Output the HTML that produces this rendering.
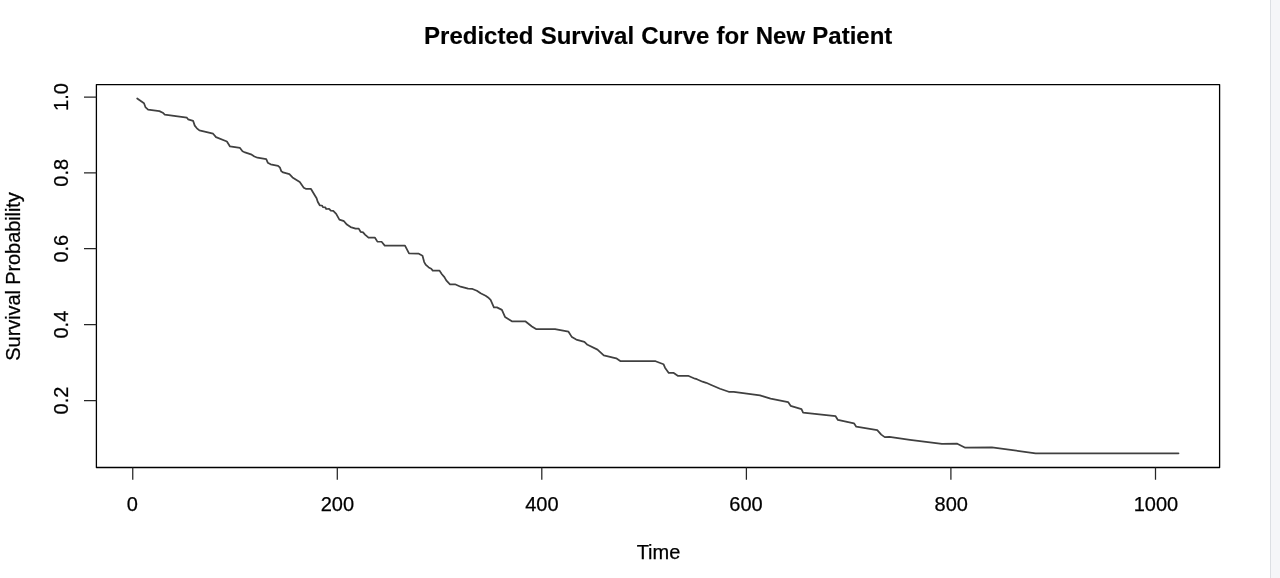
<!DOCTYPE html>
<html>
<head>
<meta charset="utf-8">
<title>Predicted Survival Curve for New Patient</title>
<style>
html,body{margin:0;padding:0;background:#fff;overflow:hidden;}
body{width:1280px;height:578px;position:relative;font-family:"Liberation Sans",sans-serif;}
svg{position:absolute;left:0;top:0;display:block;filter:grayscale(1) blur(0.35px);}
text{font-family:"Liberation Sans",sans-serif;fill:#000;stroke:#000;stroke-width:0.25px;}
.strip{position:absolute;left:1270px;top:0;width:10px;height:578px;background:#f5f6f8;border-left:1px solid #dcdfe3;box-sizing:border-box;}
</style>
</head>
<body>
<svg width="1280" height="578" viewBox="0 0 1280 578">
<defs><filter id="soft" x="-2%" y="-2%" width="104%" height="104%"><feGaussianBlur stdDeviation="0.55"/></filter></defs>
<rect x="0" y="0" width="1280" height="578" fill="#fff"/>
<!-- title -->
<text id="title" x="424.1" y="44" font-size="24" font-weight="bold" text-anchor="start" style="word-spacing:0.55px;stroke-width:0.15px">Predicted Survival Curve for New Patient</text>
<!-- plot box -->
<rect id="box" stroke-linejoin="round" x="96.4" y="84.6" width="1123.2" height="382.9" fill="none" stroke="#000" stroke-width="1.3"/>
<!-- x ticks -->
<g stroke="#262626" stroke-width="1.25" fill="none" id="xt">
<path d="M132.75 467.5V479.8M337.3 467.5V479.8M541.8 467.5V479.8M746.4 467.5V479.8M950.9 467.5V479.8M1155.5 467.5V479.8"/>
</g>
<g font-size="20" text-anchor="middle" id="xl">
<text x="132.35" y="510.6">0</text>
<text x="337.4" y="510.6">200</text>
<text x="541.9" y="510.6">400</text>
<text x="746" y="510.6">600</text>
<text x="951.3" y="510.6">800</text>
<text x="1155.9" y="510.6">1000</text>
</g>
<!-- y ticks -->
<g stroke="#262626" stroke-width="1.25" fill="none" id="yt">
<path d="M96.5 97.05H84M96.5 172.8H84M96.5 248.7H84M96.5 324.6H84M96.5 400.5H84"/>
</g>
<g font-size="20" text-anchor="middle" id="yl">
<text transform="translate(68.2 97.05) rotate(-90)">1.0</text>
<text transform="translate(68.2 172.8) rotate(-90)">0.8</text>
<text transform="translate(68.2 248.7) rotate(-90)">0.6</text>
<text transform="translate(68.2 324.6) rotate(-90)">0.4</text>
<text transform="translate(68.2 400.5) rotate(-90)">0.2</text>
</g>
<!-- axis titles -->
<text id="xlab" x="658.5" y="558.6" font-size="20" text-anchor="middle">Time</text>
<text id="ylab" transform="translate(19.8 276.45) rotate(-90)" font-size="20" text-anchor="middle" textLength="168.4" lengthAdjust="spacing">Survival Probability</text>
<!-- curve -->
<path id="curve" fill="none" stroke="#404040" stroke-width="1.75" stroke-linejoin="round" stroke-linecap="round" filter="url(#soft)" d="M137.2 98.5L144 103.3L145.6 107.45L148.1 109.6L159.4 111.1L162.75 112.7L164.75 114.6L186.9 117.7L188.1 119.3L193.1 120.8L194.75 125.6L196.9 128.3L199.4 130.45L213.1 133.7L216 137.1L226.9 141.45L230 146.45L240 147.95L242.5 151.2L245 152.45L251 154.3L254.4 156.45L257.5 157.7L266.25 159.2L267.75 162.7L270.6 164.3L278.1 165.8L280 167.7L281.25 171.1L283.1 172.45L289.4 174.2L292.5 177.45L299.75 182.1L303.75 187.7L306.25 188.95L311 188.95L314.6 195L316.6 198.2L317.7 201.7L319.75 205.3L322 205.5L322.9 207.1L325.4 207.35L326.2 209L329.1 208.85L330.8 210.7L333.25 210.8L336.2 213.8L339.4 219.6L344 221.2L346.9 224.6L350.6 227.1L355.6 228.6L358.75 228.6L360.6 231.8L363.1 232.45L365 234.6L368.5 237.7L375 237.7L377.4 241.6L381.6 241.75L384.75 245.6L405 245.6L409 253.45L418.4 253.6L422.5 255.8L424.2 262.1L425.9 264.95L428.75 267.45L431.25 268.7L432.75 270.6L439.4 270.6L441.9 274.2L444.4 277.1L446.25 280.45L450 284.3L455 284.3L460.6 286.7L468.1 288.7L472.5 288.95L476.9 290.8L480.6 293.3L485.6 295.8L488.1 297.45L490.6 299.9L493.9 307.3L496.9 307.4L501.9 309.9L505 316.95L512.25 321.45L525.6 321.45L531.9 326.45L536 329.1L555 329.1L568.5 331.7L571.9 337.1L576.25 339.6L584.4 341.8L587.5 344.8L597.5 349.6L603.75 355.45L616.25 358.3L620.6 361.2L655.6 361.2L663.5 364.2L665 367.7L668.75 372.95L673.75 372.95L678.1 375.95L688.1 375.8L695 378.7L696.9 379.2L702.5 381.7L706.25 382.8L711.25 384.95L720 388.7L728.75 391.8L733.75 391.8L760 395.3L770.6 398.7L788.1 402.1L790.6 405.8L801.5 409.2L803.1 412.7L835.6 416.2L837.9 419.95L854 423.3L856.25 426.7L877.25 430.2L881.25 434.6L884.75 437.1L889.4 436.8L910 439.8L941.9 443.95L957.25 443.7L965.25 447.7L991.9 447.45L1035.6 453.3L1178.5 453.3"/>
</svg>
<div class="strip"></div>
</body>
</html>
